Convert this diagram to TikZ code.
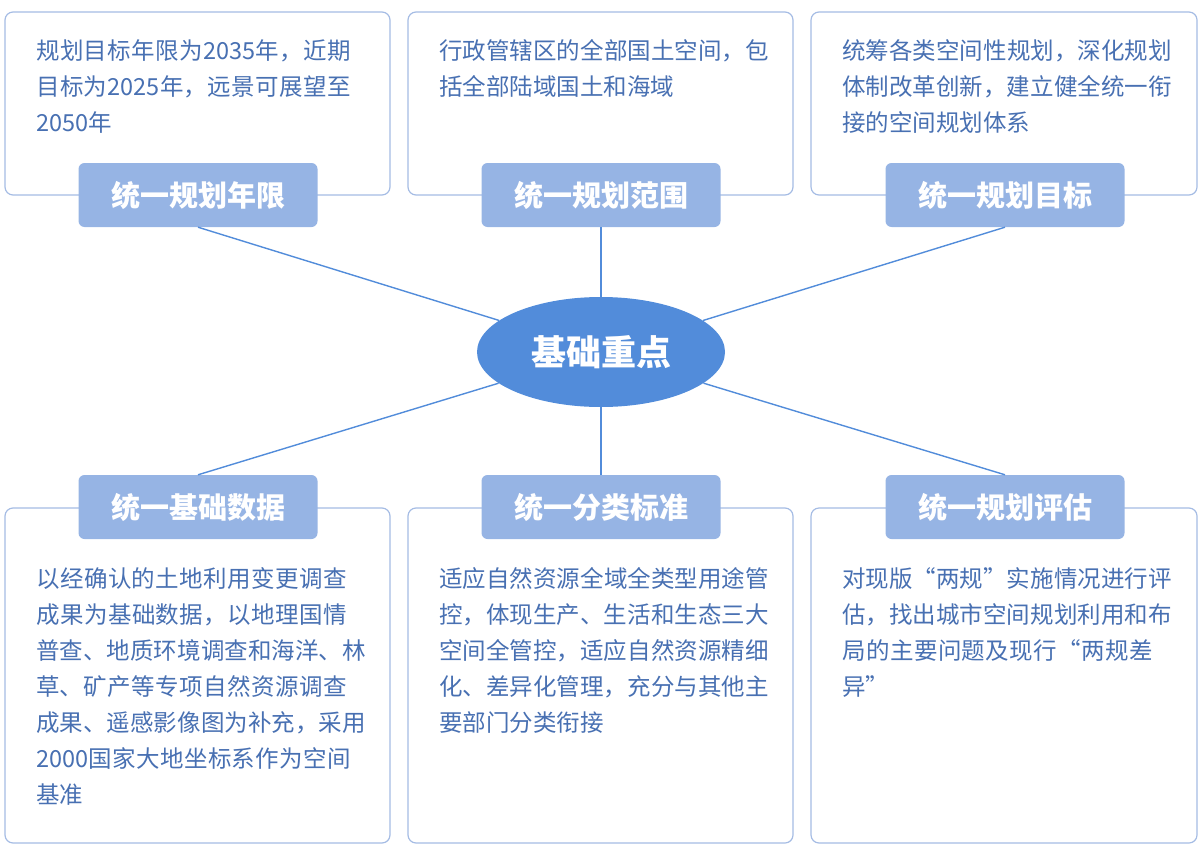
\documentclass[tikz,border=0pt]{standalone}
\usepackage{fontspec}
\setmainfont{Noto Sans CJK SC}
\XeTeXlinebreaklocale "zh"
\XeTeXlinebreakskip=0pt plus 1pt
\usetikzlibrary{shapes.geometric}
\definecolor{boxline}{RGB}{165,188,228}
\definecolor{tagfill}{RGB}{150,180,228}
\definecolor{hubfill}{RGB}{82,140,218}
\definecolor{txtblue}{RGB}{72,112,178}
\tikzset{
  infobox/.style={draw=boxline, line width=1.2pt, rounded corners=8pt},
  infotext/.style={anchor=north west, text width=332pt, align=left, inner sep=0pt,
    text=txtblue, font=\fontsize{23.5}{36}\selectfont},
  tag/.style={fill=tagfill, rounded corners=6pt, minimum width=239pt, minimum height=64pt,
    text=white, font=\fontsize{29}{32}\selectfont\bfseries},
  spoke/.style={draw=hubfill, line width=1.4pt}
}
\begin{document}
\begin{tikzpicture}[x=1pt,y=-1pt]
\useasboundingbox (0,0) rectangle (1201,851);

% boxes
\draw[infobox] (5,12) rectangle (390,195);
\draw[infobox] (408,12) rectangle (793,195);
\draw[infobox] (811,12) rectangle (1197,195);
\draw[infobox] (5,508) rectangle (390,843);
\draw[infobox] (408,508) rectangle (793,843);
\draw[infobox] (811,508) rectangle (1197,843);

% texts
\node[infotext] (t1) at (36,39) {规划目标年限为2035年，近期目标为2025年，远景可展望至2050年};
\node[infotext] (t2) at (439,39) {行政管辖区的全部国土空间，包括全部陆域国土和海域};
\node[infotext] (t3) at (842,39) {统筹各类空间性规划，深化规划体制改革创新，建立健全统一衔接的空间规划体系};
\node[infotext] (t4) at (36,567) {以经确认的土地利用变更调查成果为基础数据，以地理国情普查、地质环境调查和海洋、林草、矿产等专项自然资源调查成果、遥感影像图为补充，采用2000国家大地坐标系作为空间基准};
\node[infotext] (t5) at (439,567) {适应自然资源全域全类型用途管控，体现生产、生活和生态三大空间全管控，适应自然资源精细化、差异化管理，充分与其他主要部门分类衔接};
\node[infotext] (t6) at (842,567) {对现版“两规”实施情况进行评估，找出城市空间规划利用和布局的主要问题及现行“两规差异”};

% hub
\node[ellipse, fill=hubfill, minimum width=248pt, minimum height=110pt, text=white,
  font=\fontsize{35}{38}\selectfont\bfseries] (hub) at (601,352) {基础重点};

% tags
\node[tag] (l1) at (198,195) {统一规划年限};
\node[tag] (l2) at (601,195) {统一规划范围};
\node[tag] (l3) at (1005,195) {统一规划目标};
\node[tag] (l4) at (198,507) {统一基础数据};
\node[tag] (l5) at (601,507) {统一分类标准};
\node[tag] (l6) at (1005,507) {统一规划评估};

% spokes
\foreach \t in {l1,l2,l3}{\draw[spoke] (\t.south) -- (hub);}
\foreach \t in {l4,l5,l6}{\draw[spoke] (\t.north) -- (hub);}
\end{tikzpicture}
\end{document}
